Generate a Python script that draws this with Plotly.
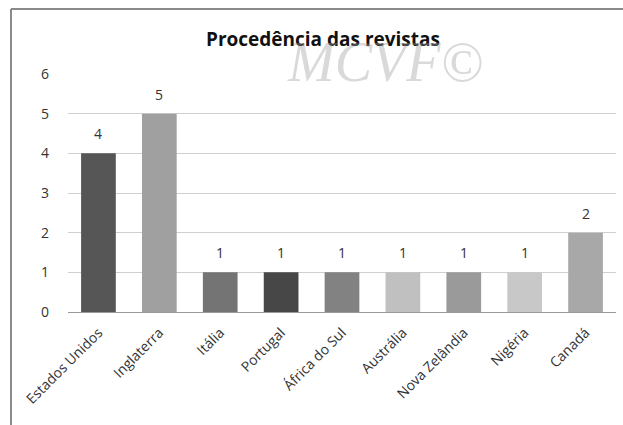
import plotly.graph_objects as go

categories = ["Estados Unidos", "Inglaterra", "Itália", "Portugal", "África do Sul",
              "Austrália", "Nova Zelândia", "Nigéria", "Canadá"]
values = [4, 5, 1, 1, 1, 1, 1, 1, 2]
bar_colors = ["#565656", "#a0a0a0", "#747474", "#474747", "#828282",
              "#c0c0c0", "#9a9a9a", "#c8c8c8", "#a8a8a8"]
y_ticks = [0, 1, 2, 3, 4, 5, 6]

W, H = 623, 425
ml, mr, mt, mb = 68, 7, 74, 113
pw, ph = W - ml - mr, H - mt - mb
FONT = "Open Sans, Liberation Sans, sans-serif"

fig = go.Figure(go.Bar(
    x=categories, y=values,
    marker=dict(color=bar_colors, line=dict(width=0)),
    width=0.57,
    hoverinfo="x+y",
))

# data labels above bars
for c, v in zip(categories, values):
    fig.add_annotation(x=c, y=v, text=str(v), showarrow=False, yanchor="bottom",
                       yshift=8, font=dict(family=FONT, size=14, color="#333333"))

fig.update_layout(
    width=W, height=H,
    margin=dict(l=ml, r=mr, t=mt, b=mb, autoexpand=False),
    plot_bgcolor="white", paper_bgcolor="white",
    showlegend=False,
    font=dict(family=FONT, size=12, color="#333"),
    title=dict(text="<b>Procedência das revistas</b>", x=323 / W, xanchor="center",
               y=1 - 39 / H, yanchor="middle",
               font=dict(family=FONT, size=19, color="#111")),
    xaxis=dict(tickangle=-45, showgrid=False, showline=True, linecolor="#999",
               linewidth=1, ticks="", automargin=False, ticklabelstandoff=6,
               tickfont=dict(size=14, color="#333")),
    yaxis=dict(range=[0, 6], tickvals=y_ticks, showgrid=True, gridcolor="#cfcfcf",
               gridwidth=1, zeroline=False, showline=False, ticks="", automargin=False,
               ticklabelstandoff=18, tickfont=dict(size=14, color="#333")),
    bargap=0.43,
)

# watermark
fig.add_annotation(text="<i>MCVF©</i>", xref="paper", yref="paper",
                   x=(385 - ml) / pw, y=(312 - 62) / ph, xanchor="center", yanchor="middle",
                   showarrow=False,
                   font=dict(family="Liberation Serif, serif", size=56, color="rgba(160,160,160,0.4)"))

# chart area border (top and left)
fig.add_shape(type="line", xref="paper", yref="paper",
              x0=(11 - ml) / pw, x1=(W - ml) / pw, y0=(312 - 9) / ph, y1=(312 - 9) / ph,
              line=dict(color="#8a8a8a", width=2))
fig.add_shape(type="line", xref="paper", yref="paper",
              x0=(11 - ml) / pw, x1=(11 - ml) / pw, y0=(312 - 9) / ph, y1=(312 - H) / ph,
              line=dict(color="#8a8a8a", width=2))

fig.write_html("out.html", config={"displayModeBar": False},
               post_script="document.body.style.margin='0';document.body.style.padding='0';")
